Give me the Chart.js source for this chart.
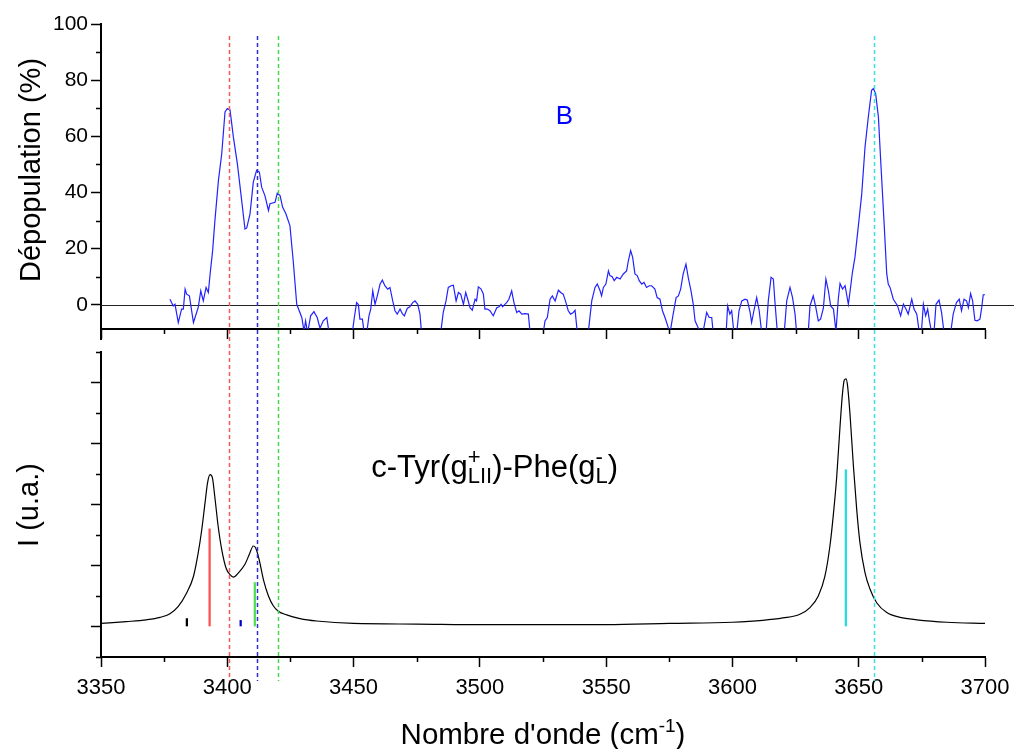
<!DOCTYPE html>
<html>
<head>
<meta charset="utf-8">
<script src="https://cdn.jsdelivr.net/npm/chart.js@4.4.0/dist/chart.umd.min.js"></script>
<style>
  body { margin: 0; background: #fff; }
  #wrap { position: relative; width: 1014px; height: 749px; }
  canvas { position: absolute; left: 0; top: 0; }
</style>
</head>
<body>
<div id="wrap">
  <canvas id="chartTop" width="1014" height="749"></canvas>
  <canvas id="chartBot" width="1014" height="749"></canvas>
</div>
<script>
// ---------------------------------------------------------
// Données
// ---------------------------------------------------------
// Dépopulation (%) - panneau du haut (valeurs < -8.6 sont coupées par le cadre)
const depopX = [
  3377.3, 3378.6, 3379.3, 3380.6, 3381.9, 3382.6, 3383.3, 3383.9, 3385.0, 3386.6,
  3388.5, 3389.5, 3390.5, 3391.6, 3392.5, 3393.2, 3394.2, 3395.1, 3396.5, 3397.8,
  3399.1, 3400.0, 3401.1, 3402.4, 3404.0, 3405.7, 3407.0, 3407.7, 3409.0, 3410.3,
  3411.6, 3412.7, 3413.6, 3414.9, 3416.3, 3416.9, 3418.9, 3419.8, 3420.9, 3421.9,
  3423.2, 3424.8, 3426.1, 3427.5, 3429.5, 3430.4, 3431.0, 3431.8, 3433.0, 3434.3,
  3435.6, 3436.7, 3438.0, 3439.4, 3440.3, 3442.0, 3447.0, 3449.5, 3450.3, 3451.2,
  3451.9, 3452.5, 3453.5, 3454.2, 3455.2, 3456.1, 3456.8, 3457.6, 3458.5, 3459.4,
  3460.5, 3461.4, 3462.4, 3463.5, 3464.4, 3465.5, 3466.4, 3467.3, 3468.4, 3469.3,
  3470.1, 3471.3, 3472.3, 3473.4, 3474.3, 3475.4, 3476.3, 3476.9, 3479.0, 3482.0,
  3484.5, 3485.5, 3486.6, 3487.5, 3488.6, 3489.5, 3490.6, 3491.5, 3492.4, 3493.5,
  3494.4, 3495.2, 3496.1, 3497.0, 3498.1, 3498.7, 3499.4, 3500.5, 3501.4, 3502.0,
  3503.0, 3504.0, 3505.3, 3506.7, 3507.6, 3508.4, 3509.0, 3509.7, 3510.6, 3511.5,
  3512.6, 3513.5, 3514.6, 3515.5, 3516.6, 3517.9, 3519.2, 3519.9, 3522.0, 3525.1,
  3525.8, 3526.7, 3527.8, 3528.7, 3529.8, 3531.1, 3532.0, 3533.0, 3534.1, 3535.0,
  3535.9, 3537.0, 3537.7, 3538.6, 3540.5, 3542.9, 3544.3, 3545.6, 3546.5, 3547.6,
  3548.2, 3548.9, 3549.9, 3550.9, 3551.5, 3552.4, 3553.2, 3554.2, 3555.5, 3556.8,
  3558.1, 3558.8, 3559.7, 3560.5, 3561.4, 3562.3, 3563.1, 3564.1, 3565.0, 3566.0,
  3567.1, 3568.0, 3569.3, 3570.2, 3571.3, 3572.3, 3573.3, 3574.6, 3575.3, 3576.4,
  3577.7, 3578.6, 3579.5, 3580.5, 3581.6, 3582.5, 3583.6, 3584.5, 3585.2, 3586.5,
  3587.8, 3588.7, 3589.8, 3590.8, 3591.8, 3592.4, 3595.0, 3597.5, 3598.1, 3599.0,
  3599.7, 3600.6, 3601.7, 3602.6, 3603.7, 3605.0, 3605.9, 3607.0, 3607.6, 3608.5,
  3609.6, 3610.6, 3611.6, 3613.3, 3614.2, 3615.3, 3616.2, 3616.8, 3617.8, 3619.0,
  3620.5, 3621.5, 3622.8, 3623.8, 3624.8, 3625.4, 3627.5, 3630.0, 3630.7, 3632.0,
  3632.9, 3634.0, 3634.9, 3636.0, 3637.0, 3638.0, 3638.9, 3640.0, 3641.0, 3641.9,
  3642.6, 3643.6, 3644.6, 3645.9, 3646.6, 3647.5, 3648.5, 3649.8, 3651.2, 3652.5,
  3653.8, 3655.1, 3655.8, 3656.7, 3657.8, 3658.7, 3660.0, 3661.1, 3661.7, 3662.4,
  3663.7, 3665.3, 3666.6, 3667.7, 3668.7, 3669.6, 3671.0, 3671.9, 3673.0, 3674.0,
  3674.8, 3675.6, 3676.5, 3677.3, 3678.0, 3678.9, 3679.8, 3680.6, 3681.8, 3682.8,
  3683.8, 3685.0, 3686.4, 3687.4, 3688.7, 3689.8, 3690.7, 3691.7, 3692.7, 3693.4,
  3694.3, 3695.1, 3696.0, 3696.9, 3698.0, 3698.7, 3699.3, 3700.0
];
const depopY = [
  2.0, -0.4, 0.2, -6.3, -1.5, -1.5, 5.6, 3.8, 3.2, -6.3,
  -0.9, 5.0, 1.4, 6.2, 4.4, 11.0, 19.3, 30.0, 44.3, 53.8,
  68.7, 69.9, 69.3, 59.8, 50.2, 37.1, 27.0, 27.4, 32.4, 43.7,
  47.9, 47.3, 41.9, 38.9, 33.6, 36.0, 36.5, 39.8, 38.9, 34.8,
  32.4, 28.2, 15.7, 0.2, -4.5, -9.5, -5.7, -10, -3.9, -2.4,
  -4.5, -8.3, -5.7, -4.5, -10, -14, -14, -10, -4.5, 0.8,
  0.1, -5.1, -5.1, -10, -10, -3.9, -1.5, 5.0, 0.2, 3.2,
  7.4, 8.8, 6.8, 5.6, 6.2, 1.4, -2.1, -3.3, -1.5, -3.1,
  -3.9, -1.2, -0.7, 0.8, 1.4, 0.2, -3.3, -10, -14, -14,
  -10, -2.7, 1.4, 6.2, 6.8, 7.0, 1.4, 4.4, 3.8, 0.2,
  4.4, 2.0, -1.0, -1.9, 2.0, 1.4, 6.4, 5.6, 3.8, -1.5,
  -1.5, -2.1, -3.9, -1.0, -0.7, 0.2, -0.7, 0.0, 0.8, 2.0,
  5.0, 0.8, -2.7, -2.1, -3.3, -3.1, -3.3, -10, -14, -10,
  -5.7, -4.5, 2.0, 3.2, 1.4, 5.2, 4.4, 3.8, 0.8, -2.1,
  -3.3, -2.7, -1.9, -10, -14, -10, 1.4, 6.2, 7.4, 5.0,
  3.2, 6.2, 7.4, 12.1, 10.4, 10.0, 8.6, 9.8, 9.2, 11.0,
  12.1, 15.7, 19.3, 16.9, 11.0, 10.4, 8.6, 7.4, 8.0, 6.2,
  6.8, 6.8, 5.6, 2.6, 2.0, -2.1, -4.5, -8.1, -10, -4.0,
  2.6, 3.2, 5.6, 11.0, 14.5, 9.8, 5.0, 0.2, -5.7, -8.3,
  -10, -8.1, -2.7, -4.5, -4.5, -10, -14, -10, -0.4, -3.3,
  -2.1, -10, -10, -2.1, 1.4, 2.0, 1.7, -2.7, -6.3, -2.1,
  2.6, -2.1, -10, -10, 1.4, 9.8, 9.2, 1.4, -10, -14,
  -10, 1.4, 6.2, 2.6, -3.3, -10, -14, -10, -0.4, 3.2,
  -0.4, -5.7, -5.1, -1.2, 9.2, 5.0, -0.4, -1.5, -9.5, 2.0,
  7.6, 5.6, 6.8, 0.2, 5.0, 11.5, 16.9, 27.6, 39.5, 56.2,
  66.9, 76.4, 77.0, 75.2, 66.9, 51.4, 30.0, 11.0, 7.4, 6.2,
  2.0, -0.2, -3.9, 0.2, -1.5, -3.3, 2.0, -1.5, -3.3, -10,
  -10, 0.2, -3.9, -1.5, -5.7, -10, -10, 0.2, 1.7, -2.7,
  -10, -14, -10, -3.3, 0.8, 2.0, -2.1, 2.0, 1.4, -1.0,
  4.0, 1.4, -5.5, -5.7, -5.1, -1.0, 3.6, 3.6
];

// Spectre calculé - panneau du bas
const specX = [
  3350, 3360, 3368, 3373.4, 3377.3, 3380.6, 3383.9, 3386.6, 3388.5, 3389.9,
  3391.2, 3392.2, 3393.2, 3394.1, 3395.1, 3396.4, 3397.8, 3399.5, 3401.1, 3402.4,
  3404.4, 3407.0, 3408.7, 3410.3, 3411.2, 3412.6, 3414.3, 3416.3, 3418.2, 3420.2,
  3423.5, 3428.8, 3435.4, 3450, 3475, 3500, 3525, 3550, 3575, 3600,
  3612, 3620, 3626.7, 3630.7, 3634.0, 3636.6, 3638.6, 3639.9, 3641.3, 3642.6,
  3643.6, 3644.3, 3645.0, 3645.6, 3646.6, 3647.9, 3649.2, 3650.5, 3652.5, 3654.5,
  3657.1, 3661.1, 3666.4, 3673.0, 3685, 3700
];
const specY = [
  0.05, 0.08, 0.11, 0.15, 0.21, 0.33, 0.55, 0.82, 1.21, 1.59,
  2.03, 2.36, 2.49, 2.44, 2.11, 1.64, 1.26, 0.96, 0.85, 0.81,
  0.88, 1.02, 1.18, 1.32, 1.29, 1.10, 0.77, 0.50, 0.34, 0.25,
  0.19, 0.13, 0.09, 0.05, 0.04, 0.03, 0.03, 0.03, 0.05, 0.07,
  0.10, 0.14, 0.20, 0.31, 0.50, 0.82, 1.32, 1.81, 2.46, 3.28,
  3.83, 4.04, 4.06, 3.94, 3.45, 2.63, 1.92, 1.37, 0.88, 0.61,
  0.39, 0.23, 0.15, 0.11, 0.07, 0.05
];

// Bâtons (fréquences calculées)
const stickX = [3384, 3393, 3405.3, 3410.9, 3644.9];
const stickH = [0.13, 1.6, 0.1, 0.72, 2.57];
const stickColors = ['#000000', '#ff5050', '#0000c8', '#50dd50', '#20dede'];

// Lignes verticales pointillées (bandes expérimentales)
const markX = [3400.7, 3411.9, 3419.9, 3655.9];
const markColors = ['#f55a5a', '#2e2ed0', '#46d846', '#38e2e2'];

// Graduations
const xTicks = [3350, 3400, 3450, 3500, 3550, 3600, 3650, 3700];
const xMinor = [3375, 3425, 3475, 3525, 3575, 3625, 3675];
const topTicks = [0, 20, 40, 60, 80, 100];
const topMinor = [10, 30, 50, 70, 90];
const botTicks = [0, 1, 2, 3, 4];
const botMinor = [-0.5, 0.5, 1.5, 2.5, 3.5, 4.5];

// ---------------------------------------------------------
// Utilitaires
// ---------------------------------------------------------
const FONT = '"Liberation Sans", Arial, sans-serif';
Chart.defaults.font.family = FONT;
Chart.defaults.color = '#000';

const toPoints = (xs, ys) => xs.map((x, i) => ({ x: x, y: ys[i] }));
const setTicks = vals => scale => { scale.ticks = vals.map(v => ({ value: v })); };

// texte avec exposants / indices empilés
function drawRich(ctx, parts, x, y, size, k) {
  let cx = x;
  ctx.textBaseline = 'alphabetic';
  ctx.textAlign = 'left';
  parts.forEach(p => {
    if (p.sup !== undefined) {
      ctx.font = Math.round(size * k) + 'px ' + FONT;
      const w1 = ctx.measureText(p.sup).width;
      const w2 = p.sub ? ctx.measureText(p.sub).width : 0;
      ctx.fillText(p.sup, cx, y - size * 0.42);
      if (p.sub) ctx.fillText(p.sub, cx, y + size * 0.2);
      cx += Math.max(w1, w2);
    } else {
      ctx.font = size + 'px ' + FONT;
      ctx.fillText(p.t, cx, y);
      cx += ctx.measureText(p.t).width;
    }
  });
  return cx - x;
}

function measureRich(ctx, parts, size, k) {
  let w = 0;
  parts.forEach(p => {
    if (p.sup !== undefined) {
      ctx.font = Math.round(size * k) + 'px ' + FONT;
      w += Math.max(ctx.measureText(p.sup).width, p.sub ? ctx.measureText(p.sub).width : 0);
    } else {
      ctx.font = size + 'px ' + FONT;
      w += ctx.measureText(p.t).width;
    }
  });
  return w;
}

// Graduations secondaires (plus courtes)
const minorTicks = {
  id: 'minorTicks',
  afterDraw(chart, args, opts) {
    const { ctx, scales: { x, y } } = chart;
    ctx.save();
    ctx.strokeStyle = '#000';
    ctx.lineWidth = 1.5;
    ctx.beginPath();
    opts.x.forEach(v => {
      const px = Math.round(x.getPixelForValue(v)) + 0.5;
      ctx.moveTo(px, x.top); ctx.lineTo(px, x.top + 5);
    });
    opts.y.forEach(v => {
      const py = Math.round(y.getPixelForValue(v)) + 0.5;
      ctx.moveTo(y.right - 5, py); ctx.lineTo(y.right, py);
    });
    ctx.stroke();
    ctx.restore();
  }
};

// Panneau du haut : ligne zéro, titre Y, "B"
const topDeco = {
  id: 'topDeco',
  beforeDatasetsDraw(chart) {
    const { ctx, scales: { y }, chartArea } = chart;
    const py = Math.round(y.getPixelForValue(0)) + 0.5;
    ctx.save();
    ctx.strokeStyle = '#222';
    ctx.lineWidth = 1.2;
    ctx.beginPath();
    ctx.moveTo(chartArea.left, py);
    ctx.lineTo(chart.width, py);
    ctx.stroke();
    // l'axe Y déborde un peu sous le cadre
    ctx.strokeStyle = '#000';
    ctx.lineWidth = 2;
    ctx.beginPath();
    ctx.moveTo(chartArea.left, chartArea.bottom);
    ctx.lineTo(chartArea.left, chartArea.bottom + 11);
    ctx.stroke();
    ctx.restore();
  },
  afterDraw(chart) {
    const { ctx, scales: { x, y } } = chart;
    ctx.save();
    ctx.fillStyle = '#000';
    ctx.font = '29px ' + FONT;
    ctx.translate(40, 170);
    ctx.rotate(-Math.PI / 2);
    ctx.textAlign = 'center';
    ctx.textBaseline = 'alphabetic';
    ctx.fillText('Dépopulation (%)', 0, 0);
    ctx.restore();

    ctx.save();
    ctx.fillStyle = '#0000ff';
    ctx.font = '26px ' + FONT;
    ctx.textAlign = 'center';
    ctx.textBaseline = 'middle';
    ctx.fillText('B', x.getPixelForValue(3533.5), y.getPixelForValue(67));
    ctx.restore();
  }
};

// Panneau du bas : pointillés, titres, formule
const botDeco = {
  id: 'botDeco',
  afterDraw(chart) {
    const { ctx, scales: { x, y } } = chart;
    ctx.save();
    ctx.lineWidth = 1.5;
    ctx.setLineDash([4, 3]);
    markX.forEach((v, i) => {
      const px = Math.round(x.getPixelForValue(v)) + 0.5;
      ctx.strokeStyle = markColors[i];
      ctx.beginPath();
      ctx.moveTo(px, 36);
      ctx.lineTo(px, 681);
      ctx.stroke();
    });
    ctx.restore();

    ctx.save();
    ctx.fillStyle = '#000';
    ctx.font = '29px ' + FONT;
    ctx.translate(38, 505);
    ctx.rotate(-Math.PI / 2);
    ctx.textAlign = 'center';
    ctx.textBaseline = 'alphabetic';
    ctx.fillText('I (u.a.)', 0, 0);
    ctx.restore();

    ctx.save();
    ctx.fillStyle = '#000';
    const xt = [{ t: "Nombre d'onde (cm" }, { sup: '-1', sub: '' }, { t: ')' }];
    const wt = measureRich(ctx, xt, 29.5, 0.66);
    drawRich(ctx, xt, 543 - wt / 2, 744, 29.5, 0.66);

    const lab = [{ t: 'c-Tyr(g' }, { sup: '+', sub: 'LII' }, { t: ')-Phe(g' }, { sup: '-', sub: 'L' }, { t: ')' }];
    drawRich(ctx, lab, x.getPixelForValue(3457), y.getPixelForValue(2.45), 31, 0.72);
    ctx.restore();
  }
};

// ---------------------------------------------------------
// Panneau du haut
// ---------------------------------------------------------
new Chart(document.getElementById('chartTop'), {
  type: 'line',
  data: {
    datasets: [{
      data: toPoints(depopX, depopY),
      borderColor: '#2222ff',
      borderWidth: 1.2,
      pointRadius: 0,
      tension: 0
    }]
  },
  options: {
    responsive: false,
    animation: false,
    layout: { padding: { top: 24, right: 29, left: 0, bottom: 0 } },
    plugins: {
      legend: { display: false },
      tooltip: { enabled: false },
      minorTicks: { x: xMinor, y: topMinor }
    },
    scales: {
      x: {
        type: 'linear', min: 3350, max: 3700, offset: false,
        afterBuildTicks: setTicks(xTicks),
        afterFit: s => { s.height = 749 - 329; s.paddingLeft = 0; s.paddingRight = 0; },
        ticks: { display: false },
        grid: { drawOnChartArea: false, offset: false, tickLength: 10, tickWidth: 1.5, tickColor: '#000' },
        border: { color: '#000', width: 2 }
      },
      y: {
        type: 'linear', min: -8.6, max: 100,
        afterBuildTicks: setTicks(topTicks),
        afterFit: s => { s.width = 101; },
        ticks: { font: { size: 21 }, color: '#000', padding: 3 },
        grid: { drawOnChartArea: false, tickLength: 10, tickWidth: 1.5, tickColor: '#000' },
        border: { color: '#000', width: 2 }
      }
    }
  },
  plugins: [minorTicks, topDeco]
});

// ---------------------------------------------------------
// Panneau du bas
// ---------------------------------------------------------
new Chart(document.getElementById('chartBot'), {
  type: 'line',
  data: {
    datasets: [{
      type: 'line',
      data: toPoints(specX, specY),
      borderColor: '#000',
      borderWidth: 1.2,
      pointRadius: 0,
      cubicInterpolationMode: 'monotone'
    }, {
      type: 'bar',
      data: toPoints(stickX, stickH),
      backgroundColor: stickColors,
      barThickness: 1.6
    }]
  },
  options: {
    responsive: false,
    animation: false,
    layout: { padding: { top: 352, right: 29, left: 0, bottom: 0 } },
    plugins: {
      legend: { display: false },
      tooltip: { enabled: false },
      minorTicks: { x: xMinor, y: botMinor }
    },
    scales: {
      x: {
        type: 'linear', min: 3350, max: 3700, offset: false,
        afterBuildTicks: setTicks(xTicks),
        afterFit: s => { s.height = 749 - 657; s.paddingLeft = 0; s.paddingRight = 0; },
        ticks: { font: { size: 22 }, color: '#000', padding: 8, maxRotation: 0, callback: v => String(v) },
        grid: { drawOnChartArea: false, offset: false, tickLength: 10, tickWidth: 1.5, tickColor: '#000' },
        border: { color: '#000', width: 2 }
      },
      y: {
        type: 'linear', min: -0.5, max: 4.5, beginAtZero: false,
        afterBuildTicks: setTicks(botTicks),
        afterFit: s => { s.width = 101; },
        ticks: { display: false },
        grid: { drawOnChartArea: false, tickLength: 10, tickWidth: 1.5, tickColor: '#000' },
        border: { color: '#000', width: 2 }
      }
    }
  },
  plugins: [minorTicks, botDeco]
});
</script>
</body>
</html>
